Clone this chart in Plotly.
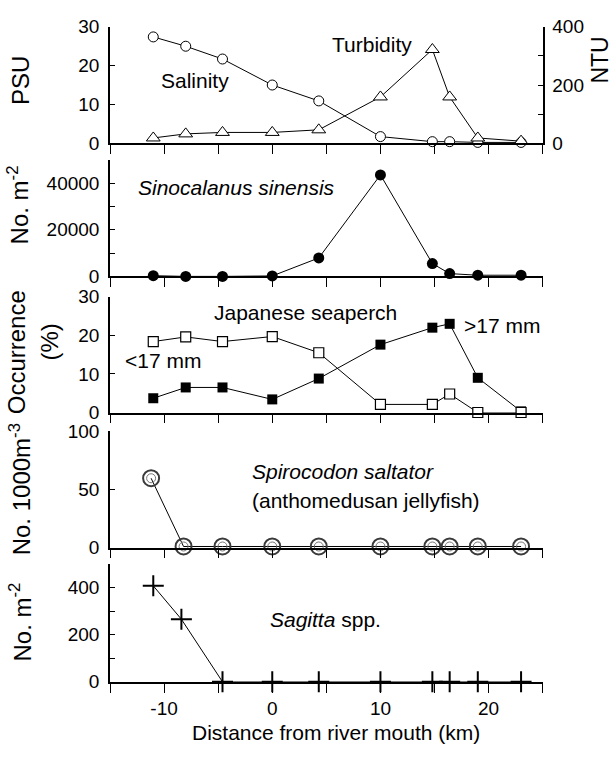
import plotly.graph_objects as go

# ---------------- data ----------------
dist = [-11, -8, -4.6, 0, 4.3, 10, 14.8, 16.4, 19, 23]
salinity = [27.4, 25.0, 21.7, 15.0, 10.9, 1.7, 0.4, 0.4, 0.2, 0.2]
turbidity = [18, 32, 37, 37, 46, 159, 322, 159, 18, 7]
sinocalanus = [300, 0, 0, 200, 7900, 43500, 5500, 1200, 500, 500]
seaperch_small = [18.4, 19.6, 18.4, 19.7, 15.5, 2.1, 2.1, 4.8, 0, 0]
seaperch_large = [3.7, 6.5, 6.5, 3.4, 8.8, 17.6, 22.0, 23.0, 9.0, 0.3]
jelly_dist = [-11.2, -8.2, -4.6, 0, 4.3, 10, 14.8, 16.4, 19, 23]
spirocodon = [59.5, 1, 1, 1, 1, 1, 1, 1, 1, 1]
sagitta_dist = [-11, -8.4, -4.6, 0, 4.3, 10, 14.8, 16.4, 19, 23]
sagitta = [408, 266, 0, 0, 0, 0, 0, 0, 0, 0]

x_ticks = [-15, -10, -5, 0, 5, 10, 15, 20, 25]
x_ticktext = ["", "-10", "", "0", "", "10", "", "20", ""]

psu_ticks = [0, 10, 20, 30]
ntu_ticks = [0, 100, 200, 300, 400]
ntu_text = ["0", "", "200", "", "400"]
sino_ticks = [0, 10000, 20000, 30000, 40000, 50000]
sino_text = ["0", "", "20000", "", "40000", ""]
occ_ticks = [0, 10, 20, 30]
jelly_ticks = [0, 50, 100]
sag_ticks = [0, 100, 200, 300, 400, 500]
sag_text = ["0", "", "200", "", "400", ""]

W, H = 613, 757
FONT = "Liberation Sans, Arial, Helvetica, sans-serif"
TICK_SIZE = 19


def px(x):
    return x / W


def py(y):
    return 1 - y / H


X0, X1 = 110, 542.7
panels = [(17.3, 137), (154, 274), (295, 414), (433, 553), (570, 691)]

fig = go.Figure()

BLK = "black"
# Panel 1: salinity (left axis) and turbidity (right axis)
fig.add_trace(go.Scatter(x=dist, y=salinity, mode="lines+markers", xaxis="x", yaxis="y",
                         line=dict(color=BLK, width=1), cliponaxis=False,
                         marker=dict(symbol="circle", size=10, color="white", line=dict(color=BLK, width=1))))
fig.add_trace(go.Scatter(x=dist, y=turbidity, mode="lines+markers", xaxis="x", yaxis="y6",
                         line=dict(color=BLK, width=1), cliponaxis=False,
                         marker=dict(symbol="triangle-up", size=12, color="white", line=dict(color=BLK, width=1))))
# Panel 2: Sinocalanus sinensis
fig.add_trace(go.Scatter(x=dist, y=sinocalanus, mode="lines+markers", xaxis="x2", yaxis="y2",
                         line=dict(color=BLK, width=1), cliponaxis=False,
                         marker=dict(symbol="circle", size=11, color=BLK)))
# Panel 3: Japanese seaperch
fig.add_trace(go.Scatter(x=dist, y=seaperch_large, mode="lines+markers", xaxis="x3", yaxis="y3",
                         line=dict(color=BLK, width=1), cliponaxis=False,
                         marker=dict(symbol="square", size=10, color=BLK)))
fig.add_trace(go.Scatter(x=dist, y=seaperch_small, mode="lines+markers", xaxis="x3", yaxis="y3",
                         line=dict(color=BLK, width=1), cliponaxis=False,
                         marker=dict(symbol="square", size=10, color="white", line=dict(color=BLK, width=1.2))))
# Panel 4: Spirocodon saltator
fig.add_trace(go.Scatter(x=jelly_dist, y=spirocodon, mode="lines+markers", xaxis="x4", yaxis="y4",
                         line=dict(color=BLK, width=1), cliponaxis=False,
                         marker=dict(symbol="circle-open", size=16, color="#3a3a3a", line=dict(width=2))))
fig.add_trace(go.Scatter(x=jelly_dist, y=spirocodon, mode="markers", xaxis="x4", yaxis="y4",
                         cliponaxis=False,
                         marker=dict(symbol="circle-open", size=9, color="#777", line=dict(width=1))))
# Panel 5: Sagitta spp.
fig.add_trace(go.Scatter(x=sagitta_dist, y=sagitta, mode="lines+markers", xaxis="x5", yaxis="y5",
                         line=dict(color=BLK, width=1), cliponaxis=False,
                         marker=dict(symbol="cross-thin", size=15, color=BLK, line=dict(color=BLK, width=2))))

axis_common = dict(showgrid=False, zeroline=False, showline=True, linecolor=BLK, linewidth=1.5,
                   tickcolor=BLK, tickfont=dict(family=FONT, size=TICK_SIZE, color=BLK))

layout = dict(width=W, height=H, margin=dict(l=0, r=0, t=0, b=0),
              paper_bgcolor="white", plot_bgcolor="white", showlegend=False,
              font=dict(family=FONT, size=TICK_SIZE, color=BLK))

yspecs = [
    (psu_ticks, [str(v) for v in psu_ticks], [0, 30]),
    (sino_ticks, sino_text, [0, 50000]),
    (occ_ticks, [str(v) for v in occ_ticks], [0, 30]),
    (jelly_ticks, [str(v) for v in jelly_ticks], [0, 100]),
    (sag_ticks, sag_text, [0, 500]),
]

for i, (top, bot) in enumerate(panels):
    n = "" if i == 0 else str(i + 1)
    dom = [py(bot), py(top)]
    layout["xaxis" + n] = dict(axis_common, domain=[px(X0), px(X1)], range=[-15, 25],
                               anchor="y" + n, tickmode="array", tickvals=x_ticks,
                               ticktext=x_ticktext, showticklabels=(i == 4),
                               ticks="outside", ticklen=9, tickwidth=1.3)
    tv, tt, rg = yspecs[i]
    layout["yaxis" + n] = dict(axis_common, domain=dom, range=rg, anchor="x" + n,
                               tickmode="array", tickvals=tv, ticktext=tt,
                               ticks="inside", ticklen=5, tickwidth=1.3, ticklabelstandoff=5)

layout["yaxis6"] = dict(axis_common, overlaying="y", side="right", anchor="x", range=[0, 400],
                        tickmode="array", tickvals=ntu_ticks, ticktext=ntu_text,
                        ticks="inside", ticklen=5, tickwidth=1.3, ticklabelstandoff=4)

fig.update_layout(**layout)


def note(text, x, y, size=21, angle=0, anchor="center"):
    fig.add_annotation(text=text, x=px(x), y=py(y), xref="paper", yref="paper",
                       showarrow=False, textangle=angle, xanchor=anchor, yanchor="middle",
                       font=dict(family=FONT, size=size, color=BLK))


# panel labels
note("Salinity", 194.5, 73)
note("Turbidity", 372, 35)
note("<i>Sinocalanus sinensis</i>", 236, 183)
note("Japanese seaperch", 305, 311)
note(">17 mm", 502, 325)
note("<17 mm", 163, 360)
note("<i>Spirocodon saltator</i>", 250, 475, anchor="left")
note("(anthomedusan jellyfish)", 250, 505, anchor="left")
note("<i>Sagitta</i> spp.", 326, 627)

# axis titles
note("PSU", 21, 73, size=24, angle=-90)
note("NTU", 600, 52, size=23, angle=-90)
note("No. m<sup>-2</sup>", 18, 201, size=24, angle=-90)
note("Occurrence", 16, 352, size=24, angle=-90)
note("(%)", 50, 342, size=24, angle=-90)
note("No. 1000m<sup>-3</sup>", 20, 493, size=24, angle=-90)
note("No. m<sup>-2</sup>", 20, 630, size=24, angle=-90)
note("Distance from river mouth (km)", 336, 743)

fig.write_html(
    "out.html",
    config={"displayModeBar": False},
    post_script="document.body.style.margin='0';document.body.style.padding='0';"
                "document.body.style.overflow='hidden';",
)
